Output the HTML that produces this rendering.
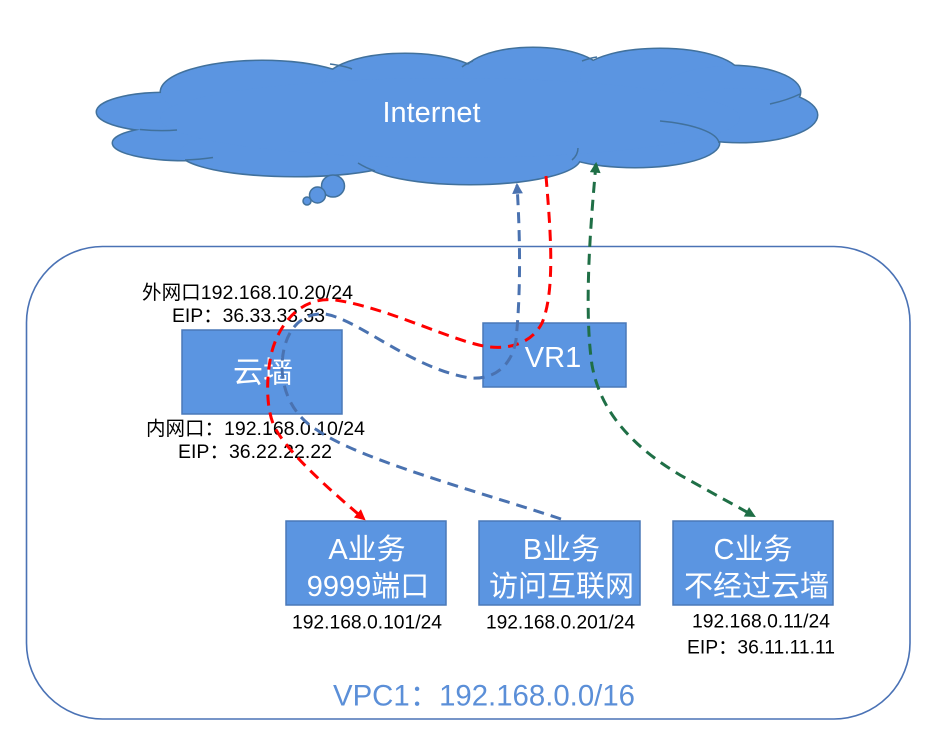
<!DOCTYPE html>
<html>
<head>
<meta charset="utf-8">
<style>
  html,body{margin:0;padding:0;background:#fff;}
  svg{display:block;}
  text{font-family:"Liberation Sans","Noto Sans CJK SC",sans-serif;}
</style>
</head>
<body>
<svg width="934" height="739" viewBox="0 0 934 739" xmlns="http://www.w3.org/2000/svg">
  <defs>
    <marker id="arR" viewBox="0 0 10 10" refX="8" refY="5" markerWidth="3.8" markerHeight="3.6" orient="auto-start-reverse" markerUnits="strokeWidth">
      <path d="M0,0 L10,5 L0,10 z" fill="#ff0000"/>
    </marker>
    <marker id="arB" viewBox="0 0 10 10" refX="8" refY="5" markerWidth="3.8" markerHeight="3.6" orient="auto-start-reverse" markerUnits="strokeWidth">
      <path d="M0,0 L10,5 L0,10 z" fill="#4a72b0"/>
    </marker>
    <marker id="arG" viewBox="0 0 10 10" refX="8" refY="5" markerWidth="3.8" markerHeight="3.6" orient="auto-start-reverse" markerUnits="strokeWidth">
      <path d="M0,0 L10,5 L0,10 z" fill="#1f6f46"/>
    </marker>
  </defs>

  <rect x="0" y="0" width="934" height="739" fill="#ffffff"/>

  <!-- VPC container -->
  <rect x="26.5" y="246.5" width="883.5" height="472.5" rx="76" ry="76" fill="none" stroke="#4a72b5" stroke-width="1.6"/>

  <!-- Cloud -->
  <g fill="#5b95e1" stroke="#41719c" stroke-width="3">
    <ellipse cx="165" cy="112" rx="68" ry="19"/>
    <ellipse cx="185" cy="143" rx="72" ry="17"/>
    <ellipse cx="262" cy="92" rx="101" ry="31"/>
    <ellipse cx="405" cy="82" rx="80" ry="28"/>
    <ellipse cx="533" cy="75" rx="70" ry="27"/>
    <ellipse cx="660" cy="76" rx="80" ry="27"/>
    <ellipse cx="730" cy="92" rx="70" ry="26"/>
    <ellipse cx="740" cy="115" rx="77" ry="27"/>
    <ellipse cx="635" cy="143" rx="84" ry="24"/>
    <ellipse cx="470" cy="158" rx="110" ry="26"/>
    <ellipse cx="295" cy="152" rx="115" ry="24"/>
  </g>
  <g fill="#5b95e1" stroke="none">
    <ellipse cx="165" cy="112" rx="68" ry="19"/>
    <ellipse cx="185" cy="143" rx="72" ry="17"/>
    <ellipse cx="262" cy="92" rx="101" ry="31"/>
    <ellipse cx="405" cy="82" rx="80" ry="28"/>
    <ellipse cx="533" cy="75" rx="70" ry="27"/>
    <ellipse cx="660" cy="76" rx="80" ry="27"/>
    <ellipse cx="730" cy="92" rx="70" ry="26"/>
    <ellipse cx="740" cy="115" rx="77" ry="27"/>
    <ellipse cx="635" cy="143" rx="84" ry="24"/>
    <ellipse cx="470" cy="158" rx="110" ry="26"/>
    <ellipse cx="295" cy="152" rx="115" ry="24"/>
    <ellipse cx="450" cy="118" rx="290" ry="40"/>
  </g>
  <!-- inner cloud arcs -->
  <g fill="none" stroke="#41719c" stroke-width="1.5">
    <path d="M140,129.5 Q160,131.5 177,130"/>
    <path d="M185,160 Q200,159.5 213,157.5"/>
    <path d="M330,64 Q345,66 352,69"/>
    <path d="M358,163 Q366,168 375,171"/>
    <path d="M572,160 Q578,155 578,148"/>
    <path d="M582,61 Q590,58 597,57"/>
    <path d="M770,104 Q788,100 800,94"/>
    <path d="M660,121 A84,24 0 0 1 719,143"/>
    <path d="M462,67 Q467,63 473,61"/>
  </g>
  <!-- bubbles -->
  <g fill="#5b95e1" stroke="#41719c" stroke-width="1.5">
    <ellipse cx="333" cy="186" rx="11.5" ry="11"/>
    <circle cx="317.5" cy="195" r="8"/>
    <circle cx="307" cy="201" r="4"/>
  </g>
  <text x="431.5" y="113" font-size="29" fill="#ffffff" text-anchor="middle" dominant-baseline="central" textLength="98" lengthAdjust="spacingAndGlyphs">Internet</text>

  <!-- Boxes -->
  <g fill="#5b95e1" stroke="#4a78b8" stroke-width="1.5">
    <rect x="182" y="330" width="160" height="84"/>
    <rect x="483" y="323" width="143" height="64"/>
    <rect x="286" y="521" width="160" height="84"/>
    <rect x="479" y="521" width="161" height="84"/>
    <rect x="673" y="521" width="160" height="84"/>
  </g>

  <!-- Box texts -->
  <g fill="#ffffff" text-anchor="middle" dominant-baseline="central">
    <text x="263" y="373" font-size="30">云墙</text>
    <text x="553" y="358" font-size="29">VR1</text>
    <text x="367" y="550" font-size="29">A业务</text>
    <text x="368" y="587" font-size="29">9999端口</text>
    <text x="561.5" y="550" font-size="29">B业务</text>
    <text x="561.5" y="587" font-size="29">访问互联网</text>
    <text x="753" y="550" font-size="29">C业务</text>
    <text x="756.5" y="587" font-size="29">不经过云墙</text>
  </g>

  <!-- Labels -->
  <g fill="#000000" text-anchor="middle" dominant-baseline="central" font-size="19.5">
    <text x="247.5" y="293" textLength="211" lengthAdjust="spacingAndGlyphs">外网口192.168.10.20/24</text>
    <text x="248.5" y="316" textLength="153" lengthAdjust="spacingAndGlyphs">EIP：36.33.33.33</text>
    <text x="255.5" y="429" textLength="219" lengthAdjust="spacingAndGlyphs">内网口：192.168.0.10/24</text>
    <text x="255" y="452" textLength="154" lengthAdjust="spacingAndGlyphs">EIP：36.22.22.22</text>
    <text x="367" y="623" font-size="19.3" textLength="150" lengthAdjust="spacingAndGlyphs">192.168.0.101/24</text>
    <text x="560.5" y="623" font-size="19.3" textLength="149" lengthAdjust="spacingAndGlyphs">192.168.0.201/24</text>
    <text x="761" y="622" font-size="19.3" textLength="138" lengthAdjust="spacingAndGlyphs">192.168.0.11/24</text>
    <text x="761" y="648" font-size="19.3" textLength="148" lengthAdjust="spacingAndGlyphs">EIP：36.11.11.11</text>
  </g>

  <text x="484" y="696" font-size="29.4" fill="#5b8fd8" text-anchor="middle" dominant-baseline="central" textLength="302" lengthAdjust="spacingAndGlyphs">VPC1：192.168.0.0/16</text>

  <!-- Connectors -->
  <path d="M546,176 C550,225 556,290 542,323 C532,343 510,349 490,347 C455,343 390,308 335,300 C300,296 278,325 271,355 C266,380 266,410 275,428 C290,455 330,490 364,519"
        fill="none" stroke="#ff0000" stroke-width="3" stroke-dasharray="11 7" marker-end="url(#arR)"/>
  <path d="M561,519 C480,492 360,460 317,430 C300,420 283,400 282,368 C282,335 298,312 325,314 C360,320 410,368 470,378 C495,380 512,365 516,340 C520,300 521,250 517,185"
        fill="none" stroke="#4a72b0" stroke-width="3" stroke-dasharray="11 7" marker-end="url(#arB)"/>
  <path d="M596,164 C590,230 584,310 592,365 C600,410 630,445 680,475 L754,516"
        fill="none" stroke="#1f6f46" stroke-width="3" stroke-dasharray="11 7" marker-start="url(#arG)" marker-end="url(#arG)"/>
</svg>
</body>
</html>
